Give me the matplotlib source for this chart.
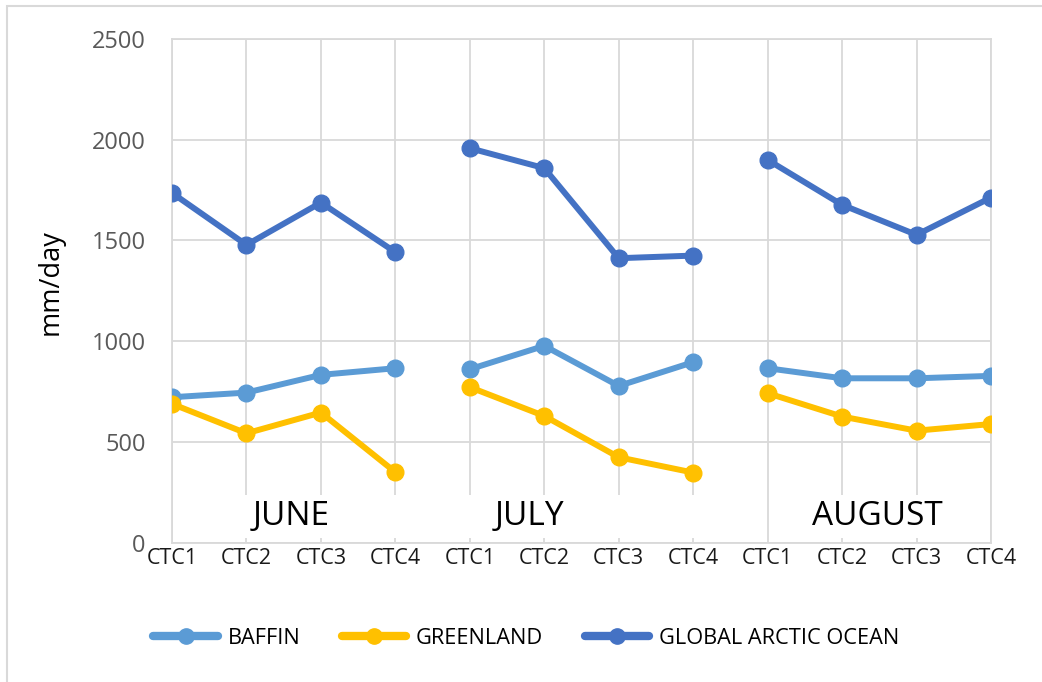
import matplotlib
matplotlib.use("Agg")
import matplotlib.pyplot as plt
from matplotlib.patches import Rectangle
import numpy as np

plt.rcParams['font.family'] = ['Open Sans', 'DejaVu Sans']

months = ["JUNE", "JULY", "AUGUST"]
ctc_labels = ["CTC1", "CTC2", "CTC3", "CTC4"]

baffin = [[722, 745, 833, 866], [861, 977, 778, 896], [866, 816, 816, 828]]
greenland = [[689, 543, 646, 350], [772, 629, 424, 348], [742, 626, 556, 589]]
global_arctic = [[1736, 1478, 1688, 1442], [1958, 1859, 1412, 1425], [1900, 1677, 1528, 1713]]

series = [("BAFFIN", baffin, "#5B9BD5"),
          ("GREENLAND", greenland, "#FFC000"),
          ("GLOBAL ARCTIC OCEAN", global_arctic, "#4472C4")]

W, H = 1042, 682
fig = plt.figure(figsize=(W / 100, H / 100), dpi=100)
ax = fig.add_axes([172 / W, 1 - 542.7 / H, (991 - 172) / W, (542.7 - 39) / H])

n = len(ctc_labels)
xticks = np.arange(len(months) * n)

grid_c = "#D9D9D9"
ax.set_axisbelow(True)
ax.grid(True, color=grid_c, lw=1.3)
for s in ax.spines.values():
    s.set_color(grid_c)
    s.set_linewidth(1.3)

handles = []
for name, data, col in series:
    for m in range(len(months)):
        xs = xticks[m * n:(m + 1) * n]
        ln, = ax.plot(xs, data[m], color=col, lw=4.3, marker='o', ms=12,
                      solid_capstyle='round', zorder=3)
    handles.append(ln)

ax.set_xlim(0, len(xticks) - 1)
ax.set_ylim(0, 2500)
ax.set_yticks(np.arange(0, 2501, 500))
ax.set_xticks(xticks)
ax.set_xticklabels(ctc_labels * len(months))
ax.tick_params(axis='x', length=0, pad=4, labelsize=15.5, labelcolor="#1a1a1a")
ax.tick_params(axis='y', length=0, pad=19, labelsize=17, labelcolor="#595959")

# white bands behind month labels (gridlines interrupted)
for x0, x1 in [(0, 8), (8, 11)]:
    ax.add_patch(Rectangle((x0 + 0.03, 23), x1 - x0 - 0.06, 214, facecolor="white",
                           edgecolor="none", zorder=1))

month_x = [1.6, 4.8, 9.47]
for mx, mname in zip(month_x, months):
    ax.text(mx, 130, mname, ha='center', va='center', fontsize=24, color="black", zorder=2)

ax.set_ylabel("mm/day", fontsize=19.5, color="black")
ax.yaxis.set_label_coords(-0.131, 0.518)

leg = fig.legend(handles, [s[0] for s in series], loc='center', ncol=3,
                 bbox_to_anchor=(0.505, 1 - 638 / H), frameon=False, fontsize=15.7,
                 handlelength=2.95, handletextpad=0.45, columnspacing=1.9)
for h in leg.legend_handles:
    h.set_linewidth(6)
    h.set_markersize(11)

fig.patches.append(Rectangle((7 / W, -0.05), 1.1, 1 - 6 / H + 0.05, transform=fig.transFigure,
                             facecolor="none", edgecolor="#D9D9D9", lw=1.5))

fig.savefig("out.png", dpi=100)
